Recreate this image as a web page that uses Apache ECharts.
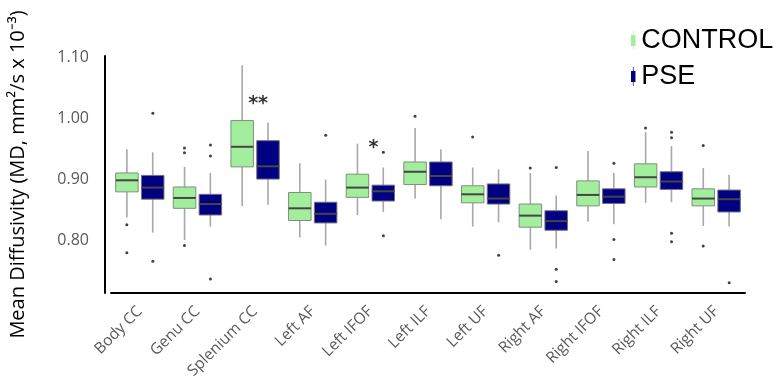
<!DOCTYPE html>
<html>
<head>
<meta charset="utf-8">
<script src="https://cdn.jsdelivr.net/npm/echarts@6/dist/echarts.min.js"></script>
<style>
  html, body { margin: 0; padding: 0; background: #fff; }
</style>
</head>
<body>
<div id="main" style="width: 780px;height:388px;"></div>
<script>
// tracts on the x axis
const categories = ['Body CC', 'Genu CC', 'Splenium CC', 'Left AF', 'Left IFOF', 'Left ILF',
  'Left UF', 'Right AF', 'Right IFOF', 'Right ILF', 'Right UF']

// [low whisker, Q1, median, Q3, high whisker]
const controlStats = [
  [0.837, 0.879, 0.898, 0.910, 0.949],
  [0.800, 0.852, 0.869, 0.887, 0.920],
  [0.856, 0.920, 0.953, 0.996, 1.087],
  [0.804, 0.832, 0.852, 0.878, 0.926],
  [0.841, 0.870, 0.886, 0.908, 0.958],
  [0.868, 0.891, 0.912, 0.928, 0.984],
  [0.822, 0.861, 0.875, 0.889, 0.919],
  [0.784, 0.821, 0.840, 0.859, 0.910],
  [0.830, 0.856, 0.874, 0.897, 0.946],
  [0.861, 0.887, 0.903, 0.925, 0.977],
  [0.823, 0.856, 0.868, 0.884, 0.918]
]
const pseStats = [
  [0.812, 0.867, 0.886, 0.906, 0.944],
  [0.822, 0.841, 0.859, 0.875, 0.910],
  [0.858, 0.900, 0.921, 0.963, 0.993],
  [0.791, 0.828, 0.843, 0.862, 0.899],
  [0.846, 0.864, 0.880, 0.890, 0.919],
  [0.834, 0.889, 0.905, 0.928, 0.949],
  [0.829, 0.859, 0.868, 0.892, 0.916],
  [0.786, 0.816, 0.831, 0.848, 0.873],
  [0.826, 0.860, 0.871, 0.884, 0.910],
  [0.862, 0.883, 0.896, 0.912, 0.954],
  [0.822, 0.846, 0.867, 0.882, 0.907]
]

// outliers: [category index, value]
const controlOutliers = [
  [0, 0.825], [0, 0.779], [1, 0.951], [1, 0.943], [1, 0.791],
  [5, 1.003], [6, 0.969], [7, 0.918], [9, 0.984], [10, 0.955], [10, 0.790]
]
const pseOutliers = [
  [0, 1.008], [0, 0.765], [1, 0.956], [1, 0.938], [1, 0.736],
  [3, 0.972], [4, 0.944], [4, 0.807], [6, 0.775],
  [7, 0.919], [7, 0.752], [7, 0.732], [8, 0.926], [8, 0.801], [8, 0.768],
  [9, 0.977], [9, 0.968], [9, 0.811], [9, 0.797], [10, 0.730]
]

// significance markers
const sigMarks = [
  { pos: [2, 1.023], text: '**' },
  { pos: [4, 0.951], text: '*' }
]

const yTicks = [0.8, 0.9, 1.0, 1.1]

const green = '#a3ee9d'
const navy = '#000080'

function boxRenderer (shift, fill, border) {
  return function (params, api) {
    const ci = api.value(0)
    const band = api.size([1, 0])[0]
    const w = band * 0.39
    const off = band * shift
    const pLow = api.coord([ci, api.value(1)])
    const pQ1 = api.coord([ci, api.value(2)])
    const pMed = api.coord([ci, api.value(3)])
    const pQ3 = api.coord([ci, api.value(4)])
    const pHigh = api.coord([ci, api.value(5)])
    const cx = pMed[0] + off
    const whisker = { stroke: '#a8a8a8', lineWidth: 1.6 }
    return {
      type: 'group',
      children: [
        { type: 'line', shape: { x1: cx, y1: pHigh[1], x2: cx, y2: pQ3[1] }, style: whisker },
        { type: 'line', shape: { x1: cx, y1: pQ1[1], x2: cx, y2: pLow[1] }, style: whisker },
        {
          type: 'rect',
          shape: { x: cx - w / 2, y: pQ3[1], width: w, height: pQ1[1] - pQ3[1] },
          style: { fill: fill, stroke: border, lineWidth: 1 }
        },
        {
          type: 'line',
          shape: { x1: cx - w / 2, y1: pMed[1], x2: cx + w / 2, y2: pMed[1] },
          style: { stroke: '#454545', lineWidth: 2 }
        }
      ]
    }
  }
}

const legendIcon = 'path://M1.7,0h0.6v3.5h-0.6z M0,3.5h4v10h-4z M1.7,13.5h0.6v3.5h-0.6z'

var myChart = echarts.init(document.getElementById('main'))

var option = {
  backgroundColor: '#fff',
  animation: false,
  legend: {
    data: ['CONTROL', 'PSE'],
    orient: 'vertical',
    left: 626,
    top: 22,
    itemGap: 9,
    itemWidth: 6,
    itemHeight: 19,
    icon: legendIcon,
    textStyle: { fontFamily: 'Liberation Sans', fontSize: 27, color: '#000' }
  },
  grid: {
    left: 107,
    right: 35,
    top: 56,
    bottom: 95
  },
  xAxis: {
    type: 'category',
    data: categories,
    axisLine: { show: true, lineStyle: { color: '#000', width: 2 } },
    axisTick: { show: false },
    axisLabel: {
      rotate: 45,
      margin: 16,
      interval: 0,
      color: '#595959',
      fontFamily: 'Open Sans',
      fontSize: 15.5
    }
  },
  yAxis: {
    type: 'value',
    min: 0.713,
    max: 1.102,
    offset: 6,
    name: 'Mean Diffusivity (MD, mm\u00b2/s x 10\u207b\u00b3)',
    nameLocation: 'middle',
    nameGap: 77,
    nameTextStyle: { fontFamily: 'Open Sans', fontSize: 20, color: '#000' },
    splitLine: { show: false },
    axisLine: { show: true, lineStyle: { color: '#000', width: 2 } },
    axisTick: { show: false },
    axisLabel: {
      customValues: yTicks,
      formatter: function (v) { return v.toFixed(2) },
      margin: 16,
      color: '#595959',
      fontFamily: 'Open Sans',
      fontSize: 16
    }
  },
  series: [
    {
      name: 'CONTROL',
      type: 'custom',
      itemStyle: { color: green },
      renderItem: boxRenderer(-0.224, green, '#7d8f7d'),
      encode: { x: 0, y: [1, 2, 3, 4, 5] },
      data: controlStats.map(function (s, i) { return [i].concat(s) })
    },
    {
      name: 'PSE',
      type: 'custom',
      itemStyle: { color: navy },
      renderItem: boxRenderer(0.224, navy, '#707080'),
      encode: { x: 0, y: [1, 2, 3, 4, 5] },
      data: pseStats.map(function (s, i) { return [i].concat(s) })
    },
    {
      name: 'CONTROL outliers',
      type: 'scatter',
      symbolSize: 3,
      symbolOffset: [-13, 0],
      itemStyle: { color: '#111' },
      data: controlOutliers
    },
    {
      name: 'PSE outliers',
      type: 'scatter',
      symbolSize: 3,
      symbolOffset: [13, 0],
      itemStyle: { color: '#111' },
      data: pseOutliers
    },
    {
      name: 'significance',
      type: 'scatter',
      symbolSize: 0,
      label: {
        show: true,
        position: 'inside',
        offset: [3, 0],
        formatter: function (p) { return sigMarks[p.dataIndex].text },
        fontFamily: 'DejaVu Sans',
        fontSize: 19,
        fontWeight: 'bold',
        color: '#000'
      },
      data: sigMarks.map(function (m) { return m.pos })
    }
  ]
}

myChart.setOption(option)
</script>
</body>
</html>
